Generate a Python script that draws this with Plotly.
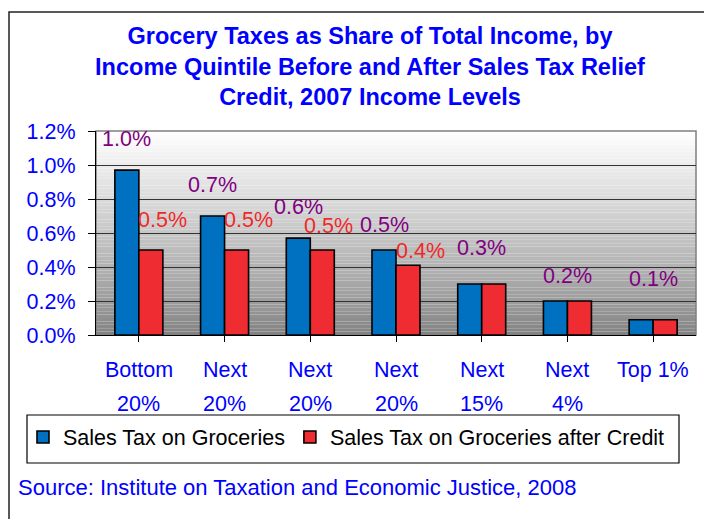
import plotly.graph_objects as go

# ---- data ----
categories = ["Bottom<br>20%", "Next<br>20%", "Next<br>20%", "Next<br>20%", "Next<br>15%", "Next<br>4%", "Top 1%"]
series_names = ["Sales Tax on Groceries", "Sales Tax on Groceries after Credit"]
before_credit = [0.97, 0.70, 0.57, 0.50, 0.30, 0.20, 0.09]
after_credit = [0.50, 0.50, 0.50, 0.41, 0.30, 0.20, 0.09]
y_ticks = [0.0, 0.2, 0.4, 0.6, 0.8, 1.0, 1.2]
title_lines = ["Grocery Taxes as Share of Total Income, by",
               "Income Quintile Before and After Sales Tax Relief",
               "Credit, 2007 Income Levels"]
source_text = "Source: Institute on Taxation and Economic Justice, 2008"

# ---- style ----
FONT = "Liberation Sans, Arial, sans-serif"
BLUE_TXT = "#0000FF"
BAR_BLUE = "#0070C0"
BAR_RED = "#EE2C32"
LBL_PURPLE = "#800080"
LBL_RED = "#F02828"
W, H = 712, 519
OFF = 8  # page body margin
# plot area in page pixels: x 96..696, y 131..335
L = 96 - OFF
T = 131 - OFF
R = W - (696 - OFF)
B = H - (335 - OFF)
PW, PH = W - L - R, H - T - B

def xp(px):
    return (px - OFF - L) / PW

def yp(py):
    return (H - B - (py - OFF)) / PH

# label pixel offsets (style only): vertical lift above bar top, horizontal nudge
blue_lift = [31, 31, 31, 25, 36, 25, 41]
red_lift = [30, 30, 24, 14, 0, 0, 0]
red_nudge = [12, 12, 6, 12, 0, 0, 0]
half_bar = 12
LBL_SIZE = 21.5

fig = go.Figure()
xs = list(range(len(categories)))
fig.add_trace(go.Bar(x=xs, y=before_credit, name=series_names[0],
                     marker=dict(color=BAR_BLUE, line=dict(color="black", width=1.6))))
fig.add_trace(go.Bar(x=xs, y=after_credit, name=series_names[1],
                     marker=dict(color=BAR_RED, line=dict(color="black", width=1.6))))

annotations = []
for i, (b, a) in enumerate(zip(before_credit, after_credit)):
    if abs(b - a) < 1e-9:
        annotations.append(dict(x=i, y=b, xref="x", yref="y", text=f"{b:.1f}%", showarrow=False,
                                yshift=blue_lift[i], xshift=0,
                                font=dict(family=FONT, size=LBL_SIZE, color=LBL_PURPLE)))
    else:
        annotations.append(dict(x=i, y=b, xref="x", yref="y", text=f"{b:.1f}%", showarrow=False,
                                yshift=blue_lift[i], xshift=-half_bar,
                                font=dict(family=FONT, size=LBL_SIZE, color=LBL_PURPLE)))
        annotations.append(dict(x=i, y=a, xref="x", yref="y", text=f"{a:.1f}%", showarrow=False,
                                yshift=red_lift[i], xshift=half_bar + red_nudge[i],
                                font=dict(family=FONT, size=LBL_SIZE, color=LBL_RED)))

# category labels (two lines, Excel-like wide line spacing)
for i, cat in enumerate(categories):
    for j, line in enumerate(cat.split("<br>")):
        annotations.append(dict(x=i, y=0, xref="x", yref="paper", text=line, showarrow=False,
                                yanchor="middle", yshift=-35 - 34 * j,
                                font=dict(family=FONT, size=21.5, color=BLUE_TXT)))

annotations.append(dict(x=xp(16), y=yp(487), xref="paper", yref="paper", text=source_text,
                        showarrow=False, xanchor="left", yanchor="middle",
                        font=dict(family=FONT, size=22, color=BLUE_TXT)))

shapes = []
# gradient plot background (grey at bottom to white at top)
N = 60
top_v = y_ticks[-1]
for k in range(N):
    f = (k + 0.5) / N
    c = int(round(128 + (255 - 128) * f ** 0.85))
    shapes.append(dict(type="rect", xref="paper", yref="y", x0=0, x1=1,
                       y0=top_v * k / N, y1=top_v * (k + 1) / N,
                       fillcolor=f"rgb({c},{c},{c})", line=dict(width=0), layer="below"))
# plot area border (grey)
shapes.append(dict(type="rect", xref="paper", yref="paper", x0=0, x1=1, y0=0, y1=1,
                   line=dict(color="#808080", width=1.5), layer="below"))
# legend box
shapes.append(dict(type="rect", xref="paper", yref="paper", x0=xp(27), x1=xp(679),
                   y0=yp(463), y1=yp(415), line=dict(color="black", width=1.2)))
# outer chart border
shapes.append(dict(type="rect", xref="paper", yref="paper", x0=xp(9), x1=xp(760),
                   y0=yp(580), y1=yp(12), line=dict(color="#222222", width=1.5)))

fig.update_layout(
    width=W, height=H,
    margin=dict(l=L, r=R, t=T, b=B, autoexpand=False),
    paper_bgcolor="white", plot_bgcolor="white",
    barmode="group", bargap=0.44, bargroupgap=0,
    font=dict(family=FONT, size=21.5, color=BLUE_TXT),
    title=dict(text="<b>" + "<br>".join(title_lines) + "</b>",
               x=(370 - OFF) / W, xanchor="center", xref="container",
               y=1 - 36 / H, yanchor="top", yref="container",
               font=dict(family=FONT, size=23.5, color=BLUE_TXT)),
    showlegend=True,
    legend=dict(orientation="h", x=xp(15 + OFF), y=yp(437), xanchor="left", yanchor="middle",
                xref="paper", yref="paper", bgcolor="rgba(0,0,0,0)", borderwidth=0,
                font=dict(family=FONT, size=21.5, color="black"), traceorder="normal",
                itemwidth=30),
    annotations=annotations,
    shapes=shapes,
)
fig.update_xaxes(tickmode="array", tickvals=xs, ticktext=categories, showticklabels=False,
                 range=[-0.5, len(categories) - 0.5], tickson="boundaries",
                 ticks="outside", ticklen=6, tickcolor="black", tickwidth=1,
                 showline=True, linecolor="black", linewidth=1.2, showgrid=False,
                 automargin=False)
fig.update_yaxes(range=[0, 1.2], tickmode="array", tickvals=y_ticks,
                 ticktext=[f"{v:.1f}%" for v in y_ticks],
                 ticks="outside", ticklen=7, tickcolor="black", tickwidth=1,
                 showline=True, linecolor="black", linewidth=1.2,
                 showgrid=True, gridcolor="#333333", gridwidth=1, zeroline=False,
                 ticklabelstandoff=8, automargin=False,
                 tickfont=dict(family=FONT, size=21.5, color=BLUE_TXT))

fig.write_html("out.html")
